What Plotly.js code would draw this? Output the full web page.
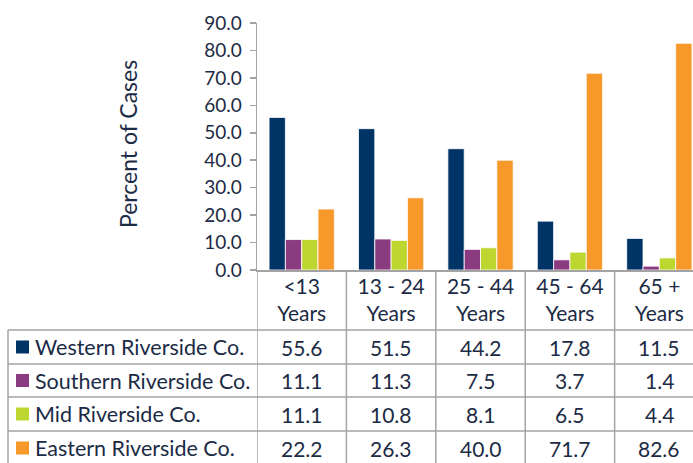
<!DOCTYPE html>
<html>
<head>
<meta charset="utf-8">
<script src="https://cdn.plot.ly/plotly-3.0.1.min.js"></script>
<style>html,body{margin:0;padding:0;background:#fff;}#chart{width:693px;height:463px;}</style>
</head>
<body>
<div id="chart"></div>
<script>
// ---- data ----
var categories = ["<13 Years", "13 - 24 Years", "25 - 44 Years", "45 - 64 Years", "65 + Years"];
var categoryLabels = ["<13<br>Years", "13 - 24<br>Years", "25 - 44<br>Years", "45 - 64<br>Years", "65 +<br>Years"];
var seriesNames = ["Western Riverside Co.", "Southern Riverside Co.", "Mid Riverside Co.", "Eastern Riverside Co."];
var western  = [55.6, 51.5, 44.2, 17.8, 11.5];
var southern = [11.1, 11.3, 7.5, 3.7, 1.4];
var mid      = [11.1, 10.8, 8.1, 6.5, 4.4];
var eastern  = [22.2, 26.3, 40.0, 71.7, 82.6];
var yTicks = [0, 10, 20, 30, 40, 50, 60, 70, 80, 90];

var seriesValues = [western, southern, mid, eastern];
var colors = ["#003366", "#8b3b80", "#bdd630", "#f7982a"];
var textColor = "#1c2b45";
var gridColor = "#a3a3a3";
var FONT = "Lato, 'Open Sans', sans-serif";

// geometry in pixels (page), converted to paper coords
var W = 693, H = 463;
var plotL = 257, plotR = 693, plotT = 23, plotB = 270;
var pw = plotR - plotL, ph = plotB - plotT;
function px2x(p) { return (p - plotL) / pw; }
function py2y(p) { return (plotB - p) / ph; }

var xIdx = categories.map(function (c, i) { return i; });

var traces = seriesValues.map(function (vals, k) {
  return {
    type: "bar",
    name: seriesNames[k],
    x: xIdx,
    y: vals,
    marker: { color: colors[k], line: { color: "#ffffff", width: 0.8 } },
    hoverinfo: "y",
    showlegend: false
  };
});

var shapes = [];
var annotations = [];
var headerBottom = 330;
var rowLines = [330, 364, 397, 431, 465];
var rowCenters = [347, 380.5, 414, 448];
var lineStyle = { color: gridColor, width: 1.5 };

// horizontal table lines
rowLines.forEach(function (py) {
  shapes.push({ type: "line", xref: "paper", yref: "paper",
    x0: px2x(8), x1: 1.05, y0: py2y(py), y1: py2y(py), line: lineStyle });
});
// left border of table
shapes.push({ type: "line", xref: "paper", yref: "paper",
  x0: px2x(8), x1: px2x(8), y0: py2y(headerBottom), y1: py2y(470), line: lineStyle });
// column separators (category boundaries on the x scale)
for (var i = 0; i <= categories.length; i++) {
  shapes.push({ type: "line", xref: "x", yref: "paper",
    x0: i - 0.5, x1: i - 0.5, y0: 0, y1: py2y(470), line: lineStyle });
}

// row labels with colour keys and values
seriesNames.forEach(function (name, k) {
  var yc = py2y(rowCenters[k]);
  shapes.push({ type: "rect", xref: "paper", yref: "paper",
    x0: px2x(16), x1: px2x(29),
    y0: yc - 6.5 / ph, y1: yc + 6.5 / ph,
    fillcolor: colors[k], line: { width: 0 } });
  annotations.push({ xref: "paper", yref: "paper", x: px2x(33), y: yc,
    xanchor: "left", yanchor: "middle", text: name, showarrow: false,
    font: { family: FONT, size: 21.5, color: textColor } });
  seriesValues[k].forEach(function (v, i) {
    annotations.push({ xref: "x", yref: "paper", x: i, y: yc,
      xanchor: "center", yanchor: "middle", text: v.toFixed(1), showarrow: false,
      font: { family: FONT, size: 21, color: textColor } });
  });
});

// y-axis title
annotations.push({ xref: "paper", yref: "paper", x: px2x(128), y: py2y(144),
  xanchor: "center", yanchor: "middle", text: "Percent of Cases", textangle: -90,
  showarrow: false, font: { family: FONT, size: 23, color: textColor } });

var layout = {
  width: W, height: H,
  margin: { l: plotL, r: W - plotR, t: plotT, b: H - plotB, pad: 0 },
  paper_bgcolor: "#ffffff", plot_bgcolor: "#ffffff",
  barmode: "group", bargap: 0.27, bargroupgap: 0,
  showlegend: false,
  xaxis: {
    range: [-0.5, 4.5 - 11 / 89],
    tickvals: xIdx, ticktext: categoryLabels,
    showgrid: false, zeroline: false,
    showline: true, linecolor: gridColor, linewidth: 1.5,
    ticks: "", tickfont: { family: FONT, size: 21, color: textColor },
    ticklabelstandoff: -3,
    fixedrange: true
  },
  yaxis: {
    range: [0, 90], tickvals: yTicks, tickformat: ".1f",
    showgrid: false, zeroline: false,
    showline: true, linecolor: gridColor, linewidth: 1.5,
    ticks: "outside", ticklen: 6, tickcolor: gridColor, tickwidth: 1.5,
    tickfont: { family: FONT, size: 19, color: textColor },
    ticklabelstandoff: 4,
    fixedrange: true
  },
  shapes: shapes,
  annotations: annotations
};

Plotly.newPlot("chart", traces, layout, { displayModeBar: false, staticPlot: true });
</script>
</body>
</html>
